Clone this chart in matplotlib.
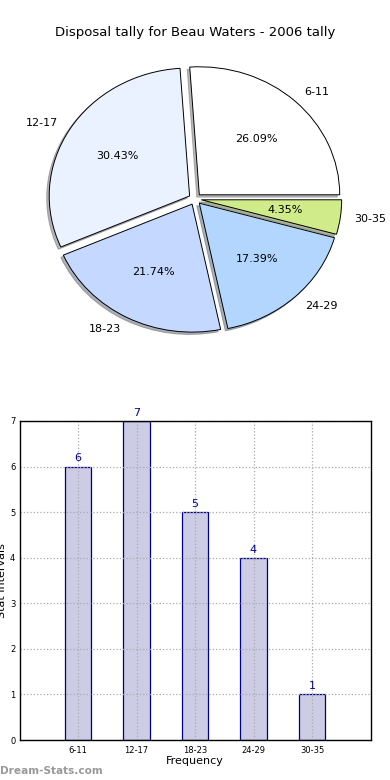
import matplotlib
matplotlib.use("Agg")
import matplotlib.pyplot as plt

categories = ["6-11", "12-17", "18-23", "24-29", "30-35"]
counts = [6, 7, 5, 4, 1]
pie_colors = ["#FFFFFF", "#EAF1FF", "#C5D8FF", "#B3D6FF", "#CFEB8A"]
title = "Disposal tally for Beau Waters - 2006 tally"

fig = plt.figure(figsize=(3.9, 7.8), dpi=100)

# Pie
ax1 = fig.add_axes([0.05, 1 - 359 / 780, 0.90, 320 / 780])
wedges, texts, autotexts = ax1.pie(
    counts, labels=categories, colors=pie_colors, autopct="%.2f%%",
    explode=[0.045] * len(counts),
    shadow={"ox": -0.013, "oy": -0.013, "shade": 0.55},
    startangle=0, labeldistance=1.1, pctdistance=0.6,
    wedgeprops=dict(edgecolor="black", linewidth=0.7),
    textprops=dict(fontsize=8),
)
ax1.set_aspect("auto")
ax1.set_xlim(-1.25, 1.25)
ax1.set_ylim(-1.25, 1.25)
ax1.axis("off")
ax1.set_title(title, fontsize=9.5, pad=2)

# Bar
ax2 = fig.add_axes([0.05, 40 / 780, 0.90, 319 / 780])
x = list(range(len(categories)))
bars = ax2.bar(x, counts, width=0.45, color="#CCCCE5", edgecolor="#000088", linewidth=0.9, zorder=1)
for xi, v in zip(x, counts):
    ax2.text(xi, v + 0.07, str(v), ha="center", va="bottom", color="#00008B", fontsize=8)
ax2.set_xlim(-1, 5)
ax2.set_ylim(0, 7)
ax2.set_xticks(x)
ax2.set_xticklabels(categories, fontsize=6)
ax2.set_yticks(range(8))
ax2.tick_params(axis="y", labelsize=6, length=0, pad=3)
ax2.tick_params(axis="x", length=0, pad=4)
ax2.grid(True, linestyle=":", color="#AAAAAA", linewidth=0.9, zorder=3)
ax2.set_axisbelow(False)
ax2.set_xlabel("Frequency", fontsize=8, labelpad=1)
ax2.set_ylabel("Stat Intervals", fontsize=8, labelpad=2)
for s in ax2.spines.values():
    s.set_linewidth(1.0)
    s.set_zorder(5)

fig.text(0.0, 0.005, "Dream-Stats.com", fontsize=7.6, color="#999999", fontweight="bold", ha="left", va="bottom")

fig.savefig("out.png", dpi=100)
